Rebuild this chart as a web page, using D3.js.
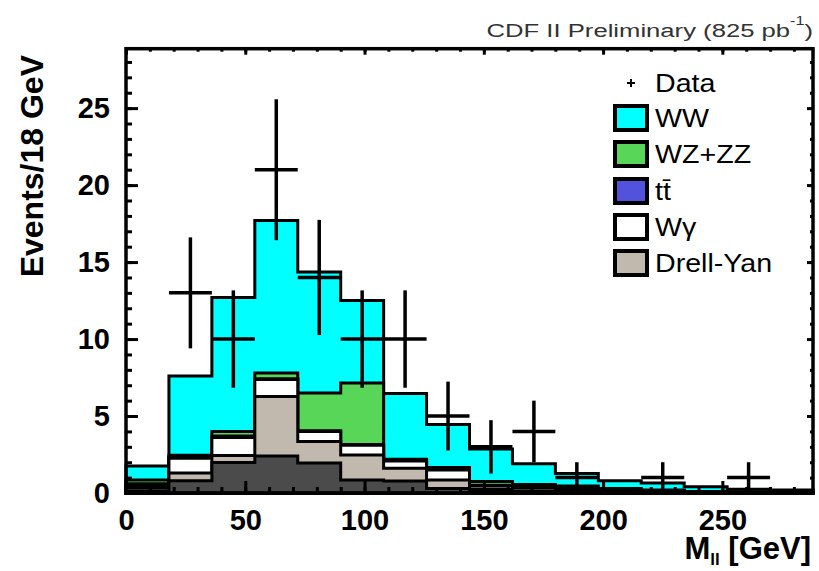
<!DOCTYPE html>
<html>
<head>
<meta charset="utf-8">
<script src="https://cdn.jsdelivr.net/npm/d3@7"></script>
<style>
  html, body { margin: 0; padding: 0; background: #ffffff; }
  svg { display: block; }
</style>
</head>
<body>
<svg id="chart" width="819" height="571"></svg>
<script>
// ---- data ----
const binEdges = [0, 18, 36, 54, 72, 90, 108, 126, 144, 162, 180, 198, 216, 234, 252, 270, 288];
const fakes  = [0.15, 0.8, 1.98, 2.4, 1.95, 0.85, 0.78, 0.3, 0.1, 0, 0, 0, 0, 0, 0, 0];
const drellYan = [0.2, 0.5, 0.45, 3.87, 1.39, 1.62, 0.82, 0.55, 0.15, 0.15, 0.1, 0.05, 0.05, 0.02, 0.01, 0.01];
const wGamma = [0.2, 0.95, 1.17, 1.1, 0.66, 0.63, 0.48, 0.65, 0.2, 0.2, 0.2, 0.15, 0.1, 0.06, 0.04, 0.03];
const ttbar  = [0.05, 0.05, 0.1, 0.05, 0.05, 0.05, 0.04, 0.05, 0.05, 0.02, 0.02, 0.02, 0.02, 0.01, 0.01, 0.01];
const wzzz   = [0.25, 0.15, 0.3, 0.38, 2.45, 4.0, 0.08, 0.1, 0.25, 0.18, 0.13, 0.08, 0.03, 0.01, 0.01, 0.01];
const ww     = [0.9, 5.15, 8.7, 9.9, 7.85, 5.35, 4.26, 2.8, 2.11, 1.35, 0.82, 0.5, 0.45, 0.3, 0.18, 0.14];
const dataCounts = [0, 13, 10, 21, 14, 10, 10, 5, 3, 4, 1, 0, 1, 0, 1, 0];
const xTicks = [0, 50, 100, 150, 200, 250];
const yTicks = [0, 5, 10, 15, 20, 25];
const legendLabels = ["Data", "WW", "WZ+ZZ", "tt\u0304", "W\u03b3", "Drell-Yan"];

// ---- setup ----
const svg = d3.select("#chart");
const X0 = 126, X1 = 813, Y0 = 493, Y1 = 48.7;
const x = d3.scaleLinear().domain([0, 288]).range([X0, X1]);
const y = d3.scaleLinear().domain([0, 28.86]).range([Y0, Y1]);

const keys = ["fakes", "dy", "wg", "tt", "wz", "ww"];
const colors = { fakes: "#4b4b4b", dy: "#c1b8ae", wg: "#ffffff", tt: "#5252dc", wz: "#58d658", ww: "#00ffff" };
const rows = fakes.map((_, i) => ({
  fakes: fakes[i], dy: drellYan[i], wg: wGamma[i], tt: ttbar[i], wz: wzzz[i], ww: ww[i]
}));
const stacked = d3.stack().keys(keys)(rows);

function stepPath(tops) {
  let p = `M${x(binEdges[0])},${y(0)}`;
  tops.forEach((t, i) => {
    p += `L${x(binEdges[i])},${y(t)}L${x(binEdges[i + 1])},${y(t)}`;
  });
  p += `L${x(binEdges[binEdges.length - 1])},${y(0)}Z`;
  return p;
}

// draw cumulative histograms from the top one down
const histG = svg.append("g");
stacked.slice().reverse().forEach(layer => {
  const tops = layer.map(d => d[1]);
  histG.append("path")
    .attr("d", stepPath(tops))
    .attr("fill", colors[layer.key])
    .attr("stroke", "#000")
    .attr("stroke-width", 3)
    .attr("stroke-linejoin", "miter");
});

// ---- data points ----
const dataG = svg.append("g");
dataCounts.forEach((v, i) => {
  if (v <= 0) return;
  const c = (binEdges[i] + binEdges[i + 1]) / 2;
  const e = Math.sqrt(v);
  dataG.append("line")
    .attr("x1", x(c)).attr("x2", x(c))
    .attr("y1", y(v - e)).attr("y2", y(v + e))
    .attr("stroke", "#000").attr("stroke-width", 3.5);
  dataG.append("line")
    .attr("x1", x(binEdges[i])).attr("x2", x(binEdges[i + 1]))
    .attr("y1", y(v)).attr("y2", y(v))
    .attr("stroke", "#000").attr("stroke-width", 3.5);
});

// ---- axes ----
const fontFam = "'Liberation Sans', Arial, Helvetica, sans-serif";
function styleAxis(g, size) {
  g.select(".domain").remove();
  g.selectAll("line").attr("stroke", "#000").attr("stroke-width", 3);
  g.attr("font-family", fontFam).attr("font-size", size).attr("font-weight", "bold");
  g.selectAll("text").attr("fill", "#000");
}
// left
svg.append("g").attr("transform", `translate(${X0},0)`)
  .call(d3.axisLeft(y).tickValues(d3.range(0, 29, 1)).tickSize(-6).tickFormat(""))
  .call(g => styleAxis(g, 29));
svg.append("g").attr("transform", `translate(${X0},0)`)
  .call(d3.axisLeft(y).tickValues(yTicks).tickSize(-12).tickPadding(16).tickFormat(d3.format("d")))
  .call(g => styleAxis(g, 29));
// right
svg.append("g").attr("transform", `translate(${X1},0)`)
  .call(d3.axisRight(y).tickValues(d3.range(0, 29, 1)).tickSize(-3).tickFormat(""))
  .call(g => styleAxis(g, 29));
svg.append("g").attr("transform", `translate(${X1},0)`)
  .call(d3.axisRight(y).tickValues(yTicks).tickSize(-6).tickFormat(""))
  .call(g => styleAxis(g, 29));
// top
svg.append("g").attr("transform", `translate(0,${Y1})`)
  .call(d3.axisTop(x).tickValues(d3.range(0, 289, 10)).tickSize(-3).tickFormat(""))
  .call(g => styleAxis(g, 29));
svg.append("g").attr("transform", `translate(0,${Y1})`)
  .call(d3.axisTop(x).tickValues(xTicks).tickSize(-6).tickFormat(""))
  .call(g => styleAxis(g, 29));
// bottom
svg.append("g").attr("transform", `translate(0,${Y0})`)
  .call(d3.axisBottom(x).tickValues(d3.range(0, 289, 10)).tickSize(-6).tickFormat(""))
  .call(g => styleAxis(g, 29));
svg.append("g").attr("transform", `translate(0,${Y0})`)
  .call(d3.axisBottom(x).tickValues(xTicks).tickSize(-12).tickPadding(16).tickFormat(d3.format("d")))
  .call(g => styleAxis(g, 29));

// frame
svg.append("rect")
  .attr("x", X0).attr("y", Y1).attr("width", X1 - X0).attr("height", Y0 - Y1)
  .attr("fill", "none").attr("stroke", "#000").attr("stroke-width", 3.5);

// ---- axis titles ----
svg.append("text")
  .attr("transform", "translate(43,55) rotate(-90)")
  .attr("text-anchor", "end")
  .attr("font-family", fontFam).attr("font-size", 32).attr("font-weight", "bold")
  .text("Events/18 GeV");

const xt = svg.append("text")
  .attr("x", 811).attr("y", 559)
  .attr("text-anchor", "end")
  .attr("font-family", fontFam).attr("font-size", 31).attr("font-weight", "bold");
xt.append("tspan").text("M");
xt.append("tspan").attr("font-size", 17).attr("dy", 6).text("ll");
xt.append("tspan").attr("dy", -6).text(" [GeV]");

// title (horizontally stretched like the reference)
const tt = svg.append("text")
  .attr("transform", "translate(813,37) scale(1.35,1)")
  .attr("text-anchor", "end")
  .attr("font-family", fontFam).attr("font-size", 19).attr("fill", "#333");
tt.append("tspan").text("CDF II Preliminary (825 pb");
tt.append("tspan").attr("font-size", 12).attr("dy", -12).text("-1");
tt.append("tspan").attr("dy", 12).text(")");

// ---- legend ----
const legendKeys = [null, "ww", "wz", "tt", "wg", "dy"];
const legCenters = [83, 118, 154, 191, 227, 263];
const leg = svg.append("g");
legendLabels.forEach((lab, i) => {
  const cy = legCenters[i];
  if (i === 0) {
    leg.append("line").attr("x1", 627).attr("x2", 635).attr("y1", cy).attr("y2", cy)
      .attr("stroke", "#000").attr("stroke-width", 2);
    leg.append("line").attr("x1", 631).attr("x2", 631).attr("y1", cy - 4).attr("y2", cy + 4)
      .attr("stroke", "#000").attr("stroke-width", 2);
  } else {
    leg.append("rect")
      .attr("x", 615).attr("y", cy - 12).attr("width", 32).attr("height", 24)
      .attr("fill", colors[legendKeys[i]]).attr("stroke", "#000").attr("stroke-width", 4);
  }
  leg.append("text")
    .attr("transform", `translate(655,${cy}) scale(1.1,1)`)
    .attr("dy", "0.35em")
    .attr("font-family", fontFam).attr("font-size", 26)
    .text(lab);
});
</script>
</body>
</html>
